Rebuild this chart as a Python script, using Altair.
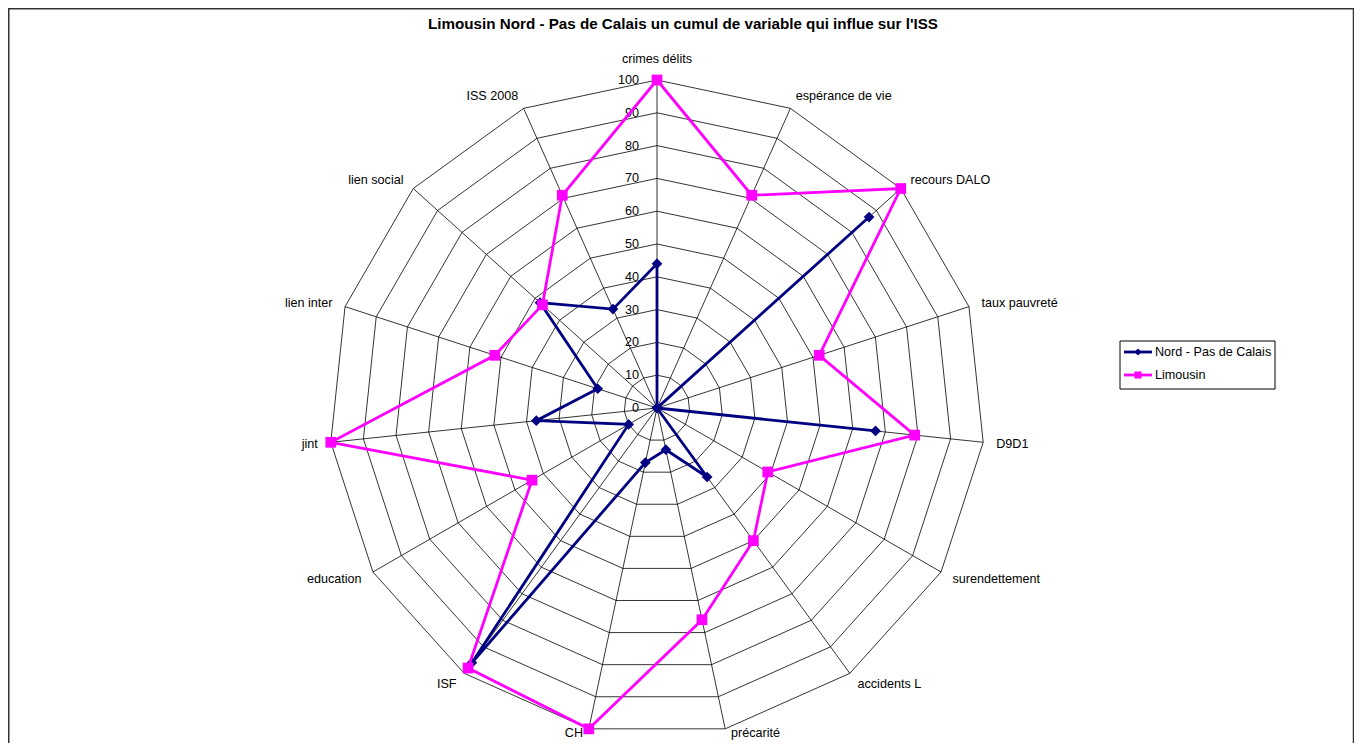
import altair as alt
import pandas as pd

# ---------------- data ----------------
CATEGORIES = ["crimes délits", "espérance de vie", "recours DALO", "taux pauvreté",
              "D9D1", "surendettement", "accidents L", "précarité", "CH", "ISF",
              "education", "jint", "lien inter", "lien social", "ISS 2008"]
NORD = [44, 0, 87, 0, 67, 0, 26, 13, 17, 96, 10, 37, 19, 48, 33]
LIMOUSIN = [100, 71, 100, 52, 79, 39, 50, 66, 100, 98, 44, 100, 52, 47, 71]
SERIES = ["Nord - Pas de Calais", "Limousin"]
LEVELS = [0, 10, 20, 30, 40, 50, 60, 70, 80, 90, 100]
TICK_LABELS = ["0", "10", "20", "30", "40", "50", "60", "70", "80", "90", "100"]
TITLE = "Limousin Nord - Pas de Calais un cumul de variable qui influe sur l'ISS"

NAVY = "#000080"
MAGENTA = "#FF00FF"
FONT = "Liberation Sans"
FS = 12.6

N = len(CATEGORIES)
W, H = 1346, 735
CX, CY = 649, 400          # centre of the radar in chart pixels
PX = 3.28                  # pixels per unit
XDOM = [-CX / PX, (W - CX) / PX]
YDOM = [-(H - CY) / PX, CY / PX]

xs = alt.Scale(domain=XDOM, nice=False, zero=False)
ys = alt.Scale(domain=YDOM, nice=False, zero=False)


def X(f):
    return alt.X(f, type="quantitative", scale=xs, axis=None)


def Y(f):
    return alt.Y(f, type="quantitative", scale=ys, axis=None)


ANG = f"datum.idx * 2 * PI / {N}"

# series table (closed polygons)
rows = []
for s, vals in zip(SERIES, [NORD, LIMOUSIN]):
    for k in range(N + 1):
        rows.append({"series": s, "order": k, "idx": k % N, "value": vals[k % N]})
series_df = pd.DataFrame(rows)

grid_df = pd.DataFrame([{"level": L, "order": k, "idx": k % N}
                        for L in LEVELS[1:] for k in range(N + 1)])
cat_df = pd.DataFrame({"cat": CATEGORIES, "idx": list(range(N))})
tick_df = pd.DataFrame({"level": LEVELS, "label": TICK_LABELS})
legend_df = pd.DataFrame({"series": SERIES, "row": [0, 1]})
title_df = pd.DataFrame({"t": [TITLE]})
frame_df = pd.DataFrame({"k": [0]})

# ---------------- grid ----------------
grid = alt.Chart(grid_df).transform_calculate(
    x=f"datum.level * sin({ANG})",
    y=f"datum.level * cos({ANG})",
).mark_line(color="black", strokeWidth=0.8).encode(
    x=X("x"), y=Y("y"), detail="level:N", order="order:Q"
)

spokes = alt.Chart(cat_df).transform_calculate(
    x0="0", y0="0",
    x1=f"100 * sin({ANG})",
    y1=f"100 * cos({ANG})",
).mark_rule(color="black", strokeWidth=0.8).encode(
    x=X("x0"), y=Y("y0"), x2="x1:Q", y2="y1:Q"
)

ticks = alt.Chart(tick_df).transform_calculate(x0="0").mark_text(
    align="right", baseline="middle", dx=-18, fontSize=FS, font=FONT, color="black"
).encode(x=X("x0"), y=Y("level"), text="label:N")

lab_base = alt.Chart(cat_df).transform_calculate(
    s=f"sin({ANG})", c=f"cos({ANG})"
).transform_calculate(
    r="abs(datum.s) < 0.1 ? 106.5 : (datum.c < -0.9 ? 101.3 : 104)",
    shift="datum.c < -0.9 ? (datum.s > 0 ? 1.5 : -1.5) : 0",
).transform_calculate(
    lx="datum.r * datum.s + datum.shift", ly="datum.r * datum.c"
)
lab_right = lab_base.transform_filter("datum.s > 0.1").mark_text(
    align="left", baseline="middle", fontSize=FS, font=FONT, color="black"
).encode(x=X("lx"), y=Y("ly"), text="cat:N")
lab_left = lab_base.transform_filter("datum.s < -0.1").mark_text(
    align="right", baseline="middle", fontSize=FS, font=FONT, color="black"
).encode(x=X("lx"), y=Y("ly"), text="cat:N")
lab_mid = lab_base.transform_filter("abs(datum.s) <= 0.1").mark_text(
    align="center", baseline="middle", fontSize=FS, font=FONT, color="black"
).encode(x=X("lx"), y=Y("ly"), text="cat:N")

# ---------------- series ----------------
ser_base = alt.Chart(series_df).transform_calculate(
    x=f"datum.value * sin({ANG})",
    y=f"datum.value * cos({ANG})",
)


def series_layers(name, color, shape, size):
    b = ser_base.transform_filter(alt.datum.series == name)
    line = b.mark_line(color=color, strokeWidth=2.8).encode(
        x=X("x"), y=Y("y"), order="order:Q")
    pts = b.transform_filter("datum.order < %d" % N).mark_point(
        filled=True, shape=shape, size=size, color=color, opacity=1).encode(
        x=X("x"), y=Y("y"))
    return [line, pts]


main = alt.layer(
    grid, spokes, ticks, lab_right, lab_left, lab_mid,
    *series_layers(SERIES[0], NAVY, "diamond", 115),
    *series_layers(SERIES[1], MAGENTA, "square", 115),
)

# ---------------- legend ----------------
ly_scale = alt.Scale(domain=[0, 1], range=[344, 367])
col_scale = alt.Scale(domain=SERIES, range=[NAVY, MAGENTA])
shp_scale = alt.Scale(domain=SERIES, range=["diamond", "square"])

leg_box = alt.Chart(frame_df).mark_rect(
    fill="white", stroke="black", strokeWidth=1
).encode(x=alt.value(1112), x2=alt.value(1267), y=alt.value(333), y2=alt.value(381))
leg_line = alt.Chart(legend_df).mark_rule(strokeWidth=2.8).encode(
    x=alt.value(1116), x2=alt.value(1144),
    y=alt.Y("row:Q", scale=ly_scale, axis=None),
    color=alt.Color("series:N", scale=col_scale, legend=None))
leg_pts = alt.Chart(legend_df).mark_point(filled=True, size=50, opacity=1).encode(
    x=alt.value(1130),
    y=alt.Y("row:Q", scale=ly_scale, axis=None),
    color=alt.Color("series:N", scale=col_scale, legend=None),
    shape=alt.Shape("series:N", scale=shp_scale, legend=None))
leg_txt = alt.Chart(legend_df).mark_text(
    align="left", baseline="middle", fontSize=FS, font=FONT, color="black"
).encode(x=alt.value(1147), y=alt.Y("row:Q", scale=ly_scale, axis=None), text="series:N")
legend = alt.layer(leg_box, leg_line, leg_pts, leg_txt)

# ---------------- frame & title ----------------
frame = alt.Chart(frame_df).mark_rect(
    fill="transparent", stroke="#333333", strokeWidth=1.5
).encode(x=alt.value(0.75), x2=alt.value(1345.5), y=alt.value(0.75), y2=alt.value(800))
title = alt.Chart(title_df).mark_text(
    align="center", baseline="middle", fontSize=15.2, fontWeight="bold", font=FONT, color="black"
).encode(x=alt.value(675), y=alt.value(16), text="t:N")

chart = alt.layer(frame, main, legend, title).resolve_scale(y="independent").properties(
    width=W, height=H, padding=0,
    autosize=alt.AutoSizeParams(type="none"),
    background="white",
).configure_view(strokeWidth=0)

chart.save("out.html", embed_options={"renderer": "svg", "actions": False})
